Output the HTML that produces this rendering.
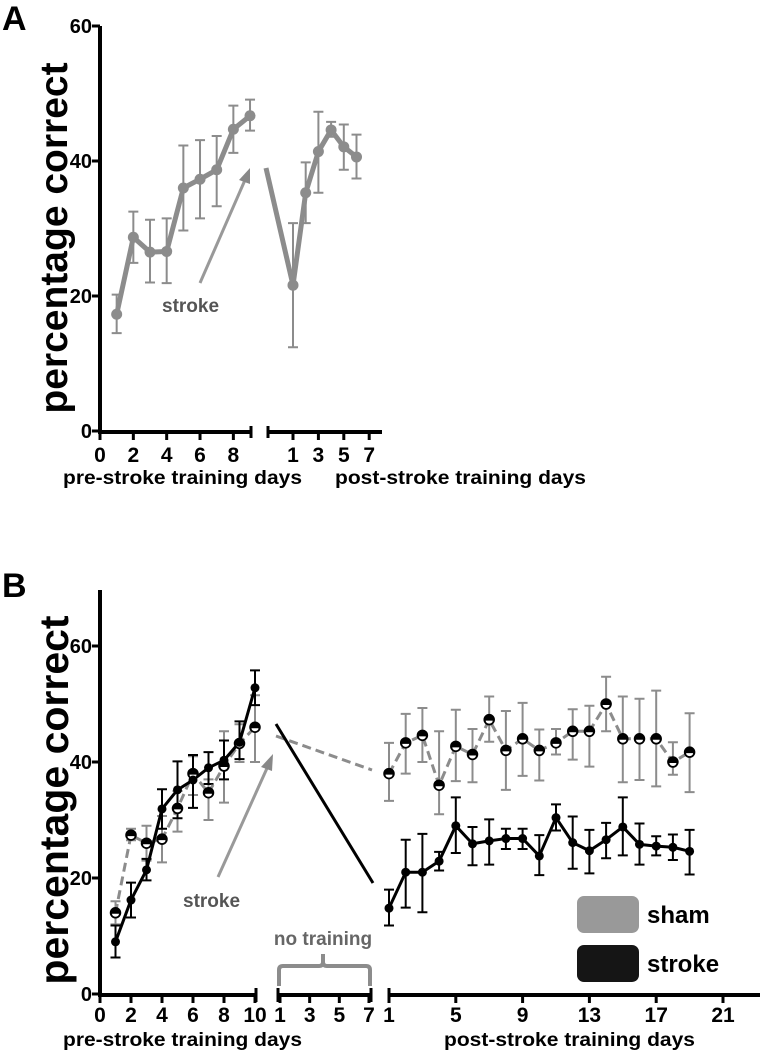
<!DOCTYPE html>
<html><head><meta charset="utf-8"><style>
html,body{margin:0;padding:0;background:#fff;}
svg{display:block;font-family:"Liberation Sans",Arial,sans-serif;font-weight:bold;}
</style></head><body>
<svg id="fig" width="760" height="1050" viewBox="0 0 760 1050" xmlns="http://www.w3.org/2000/svg">
<g id="gA"></g>
<g id="gB"></g>
</svg>
<script>
// Panel A data
const aPreDays = [1,2,3,4,5,6,7,8,9];
const aPreMean = [17.3,28.7,26.5,26.6,36,37.3,38.7,44.7,46.7];
const aPreLo = [14.5,24.9,22,21.9,29.7,31.5,33.3,41.2,44.5];
const aPreHi = [20.2,32.5,31.3,31.5,42.3,43.1,43.7,48.2,49.1];
const aPostDays = [1,2,3,4,5,6];
const aPostMean = [21.6,35.3,41.4,44.6,42.1,40.6];
const aPostLo = [12.4,30.8,35.3,43.6,38.7,37.4];
const aPostHi = [30.8,39.8,47.3,45.8,45.4,43.9];
const aYTicks = [0,20,40,60];
const aPreTicks = [0,2,4,6,8];
const aPostTicks = [1,3,5,7];
// Panel B data
const bPreDays = [1,2,3,4,5,6,7,8,9,10];
const bShamPre = [14,27.4,26,26.7,32,38,34.7,39.3,43.2,46];
const bShamPreLo = [12,26.5,23,22.7,28,34.3,30,33,40,40];
const bShamPreHi = [16,28.5,29,30.7,35,41,37,45.3,46.5,51.5];
const bStrokePre = [9,16.2,21.4,31.9,35.2,36.9,39,40.3,43.4,52.8];
const bStrokePreLo = [6.3,13.2,19.6,28.5,30.3,32.1,36.2,37,40.5,49.8];
const bStrokePreHi = [11.8,19.2,23.3,35.3,40.1,41.2,41.7,43.7,47,55.8];
const bPostDays = [1,2,3,4,5,6,7,8,9,10,11,12,13,14,15,16,17,18,19];
const bShamPost = [38,43.3,44.6,36,42.7,41.3,47.3,42,44,42,43.3,45.3,45.3,50,44,44,44,40,41.7];
const bShamPostLo = [33.3,38,40,31,36.7,36.5,43.5,35.2,37.6,36.8,41.3,40.4,39.2,45.3,36.5,36.9,35.8,37.8,34.8];
const bShamPostHi = [43.3,48.3,49.3,45.3,49,45.7,51.3,48.8,50.2,45.6,45.7,49.1,49.7,54.7,51.3,50.9,52.3,43.4,48.4];
const bStrokePost = [14.8,21,21,22.9,29,25.9,26.4,26.8,26.8,23.8,30.4,26.1,24.7,26.6,28.8,25.8,25.5,25.3,24.6];
const bStrokePostLo = [11.8,14.9,14.1,21.3,24.3,22.2,22.3,25,25,20.5,28.2,21.6,20.8,23.4,23.9,22.3,23.9,23.1,20.6];
const bStrokePostHi = [18,26.6,27.6,24.5,33.9,28.8,30.1,28.5,28.5,27.4,32.7,30.6,28.3,29.5,33.9,29.4,27.2,27.5,28.3];
const bYTicks = [0,20,40,60];
const bPreTicks = [0,2,4,6,8,10];
const bMidTicks = [1,3,5,7];
const bPostTicks = [1,5,9,13,17,21];

const NS="http://www.w3.org/2000/svg";
function mk(parent,tag,attrs,text){const e=document.createElementNS(NS,tag);for(const k in attrs)e.setAttribute(k,attrs[k]);if(text!==undefined)e.textContent=text;parent.appendChild(e);return e;}

// ---------- Panel A ----------
const A=document.getElementById('gA');
const ayA=v=>431-v*6.75;
const axPre=d=>100+d*16.67;
const axPost=d=>280.3+d*12.7;
let t;
t=mk(A,'text',{x:2,y:30,'font-size':34},'A');


t=mk(A,'text',{x:0,y:0,'font-size':39,'text-anchor':'middle',transform:'translate(67,238) rotate(-90)'},'percentage correct');


let ln=mk(A,'line',{x1:100,y1:ayA(60),x2:100,y2:432,stroke:'#000','stroke-width':4});


aYTicks.forEach(v=>{mk(A,'line',{x1:92,x2:100,y1:ayA(v),y2:ayA(v),stroke:'#000','stroke-width':3});
 const tx=mk(A,'text',{x:92,y:ayA(v)+7,'font-size':20,'text-anchor':'end'},v);
 
 });
ln=mk(A,'line',{x1:98,y1:432,x2:251,y2:432,stroke:'#000','stroke-width':4});


mk(A,'line',{x1:251,x2:251,y1:426,y2:438,stroke:'#000','stroke-width':3});
aPreTicks.forEach(d=>{mk(A,'line',{x1:axPre(d),x2:axPre(d),y1:432,y2:440,stroke:'#000','stroke-width':3});
 const tx=mk(A,'text',{x:axPre(d),y:462,'font-size':21,'text-anchor':'middle'},d);
 
 });
ln=mk(A,'line',{x1:268,y1:432,x2:382,y2:432,stroke:'#000','stroke-width':4});


mk(A,'line',{x1:268,x2:268,y1:426,y2:438,stroke:'#000','stroke-width':3});
aPostTicks.forEach(d=>{mk(A,'line',{x1:axPost(d),x2:axPost(d),y1:432,y2:440,stroke:'#000','stroke-width':3});
 const tx=mk(A,'text',{x:axPost(d),y:462,'font-size':21,'text-anchor':'middle'},d);
 
 });
t=mk(A,'text',{x:63,y:484,'font-size':19,textLength:239,lengthAdjust:'spacingAndGlyphs'},'pre-stroke training days');


t=mk(A,'text',{x:335,y:484,'font-size':19,textLength:251,lengthAdjust:'spacingAndGlyphs'},'post-stroke training days');


function errBars(g,xs,lo,hi,xf,yf,col,w,cap,name){xs.forEach((d,i)=>{const x=xf(d);
 const e=mk(g,'path',{d:`M${x},${yf(lo[i])}V${yf(hi[i])}M${x-cap},${yf(lo[i])}h${2*cap}M${x-cap},${yf(hi[i])}h${2*cap}`,stroke:col,'stroke-width':w,fill:'none'});
 
 });}
errBars(A,aPreDays,aPreLo,aPreHi,axPre,ayA,'#8c8c8c',2,5,'error-bar-pre-a');
errBars(A,aPostDays,aPostLo,aPostHi,axPost,ayA,'#8c8c8c',2,5,'error-bar-post-a');
let p=mk(A,'polyline',{points:aPreDays.map((d,i)=>axPre(d)+','+ayA(aPreMean[i])).join(' '),fill:'none',stroke:'#8c8c8c','stroke-width':5,'stroke-linejoin':'round'});


p=mk(A,'polyline',{points:'266,168 '+aPostDays.map((d,i)=>axPost(d)+','+ayA(aPostMean[i])).join(' '),fill:'none',stroke:'#8c8c8c','stroke-width':5,'stroke-linejoin':'round'});


aPreDays.forEach((d,i)=>{const c=mk(A,'circle',{cx:axPre(d),cy:ayA(aPreMean[i]),r:5.5,fill:'#8c8c8c'});
 
 });
aPostDays.forEach((d,i)=>{const c=mk(A,'circle',{cx:axPost(d),cy:ayA(aPostMean[i]),r:5.5,fill:'#8c8c8c'});
 
 });
p=mk(A,'path',{d:'M200,283 L245,180',stroke:'#999','stroke-width':3,fill:'none'});


mk(A,'polygon',{points:'250,168 239,180 250,184',fill:'#888'});
t=mk(A,'text',{x:162,y:312,'font-size':19,fill:'#555'},'stroke');



// ---------- Panel B ----------
const B=document.getElementById('gB');
const ayB=v=>994-v*5.8;
const bxPre=d=>100+d*15.5;
const bxMid=d=>280+(d-1)*14.83;
const bxPost=d=>389+(d-1)*16.7;
t=mk(B,'text',{x:2,y:597,'font-size':34},'B');


t=mk(B,'text',{x:0,y:0,'font-size':41,'text-anchor':'middle',transform:'translate(68,800) rotate(-90)'},'percentage correct');


ln=mk(B,'line',{x1:100,y1:590,x2:100,y2:995,stroke:'#000','stroke-width':4});


bYTicks.forEach(v=>{mk(B,'line',{x1:92,x2:100,y1:ayB(v),y2:ayB(v),stroke:'#000','stroke-width':3});
 const tx=mk(B,'text',{x:92,y:ayB(v)+7,'font-size':20,'text-anchor':'end'},v);
 
 });
function axisSeg(x1,x2,ticks,xf,name){const l=mk(B,'line',{x1:x1,y1:995,x2:x2,y2:995,stroke:'#000','stroke-width':4});
 
 
 ticks.forEach(d=>{mk(B,'line',{x1:xf(d),x2:xf(d),y1:995,y2:1003,stroke:'#000','stroke-width':3});
 const tx=mk(B,'text',{x:xf(d),y:1022,'font-size':21,'text-anchor':'middle'},d);
 
 });}
axisSeg(98,256,bPreTicks,bxPre,'x-axis-pre-b');
mk(B,'line',{x1:256,x2:256,y1:988,y2:1002,stroke:'#000','stroke-width':3});
axisSeg(278,371,bMidTicks,bxMid,'x-axis-mid-b');
mk(B,'line',{x1:278,x2:278,y1:988,y2:1002,stroke:'#000','stroke-width':3});
mk(B,'line',{x1:371,x2:371,y1:988,y2:1002,stroke:'#000','stroke-width':3});
axisSeg(389,760,bPostTicks,bxPost,'x-axis-post-b');
mk(B,'line',{x1:389,x2:389,y1:988,y2:1002,stroke:'#000','stroke-width':3});
t=mk(B,'text',{x:63,y:1046,'font-size':19,textLength:239,lengthAdjust:'spacingAndGlyphs'},'pre-stroke training days');


t=mk(B,'text',{x:444,y:1046,'font-size':19,textLength:251,lengthAdjust:'spacingAndGlyphs'},'post-stroke training days');


// error bars
errBars(B,bPreDays,bShamPreLo,bShamPreHi,bxPre,ayB,'#8c8c8c',2,5,'error-bar-sham-pre');
errBars(B,bPostDays,bShamPostLo,bShamPostHi,bxPost,ayB,'#8c8c8c',2,5,'error-bar-sham-post');
errBars(B,bPreDays,bStrokePreLo,bStrokePreHi,bxPre,ayB,'#000',2,5,'error-bar-stroke-pre');
errBars(B,bPostDays,bStrokePostLo,bStrokePostHi,bxPost,ayB,'#000',2,5,'error-bar-stroke-post');
// lines
function line(pts,col,dash,name){const l=mk(B,'polyline',{points:pts,fill:'none',stroke:col,'stroke-width':3,'stroke-dasharray':dash,'stroke-linejoin':'round'});
 
 }
line(bPreDays.map((d,i)=>bxPre(d)+','+ayB(bShamPre[i])).join(' '),'#8c8c8c','9,5','line-sham-pre');
line(bPostDays.map((d,i)=>bxPost(d)+','+ayB(bShamPost[i])).join(' '),'#8c8c8c','9,5','line-sham-post');
line('276,736 372,770','#8c8c8c','9,5','line-sham-break');
line(bPreDays.map((d,i)=>bxPre(d)+','+ayB(bStrokePre[i])).join(' '),'#000','none','line-stroke-pre');
line(bPostDays.map((d,i)=>bxPost(d)+','+ayB(bStrokePost[i])).join(' '),'#000','none','line-stroke-post');
line('276,724 373,883','#000','none','line-stroke-break');
// markers
function sham(x,y){const g=mk(B,'g',{});
 
 
 mk(g,'circle',{cx:x,cy:y,r:5,fill:'#000',stroke:'#000','stroke-width':1.5});
 mk(g,'path',{d:`M${x-3.5},${y+1} A3.5,3 0 0 0 ${x+3.5},${y+1} Z`,fill:'#fff'});}
function strk(x,y){const c=mk(B,'circle',{cx:x,cy:y,r:4.5,fill:'#000'});
 
 }
bPreDays.forEach((d,i)=>sham(bxPre(d),ayB(bShamPre[i])));
bPostDays.forEach((d,i)=>sham(bxPost(d),ayB(bShamPost[i])));
bPreDays.forEach((d,i)=>strk(bxPre(d),ayB(bStrokePre[i])));
bPostDays.forEach((d,i)=>strk(bxPost(d),ayB(bStrokePost[i])));
// stroke arrow
p=mk(B,'path',{d:'M218,877 L268,766',stroke:'#999','stroke-width':3,fill:'none'});


mk(B,'polygon',{points:'273,754 261,767 272,771',fill:'#888'});
t=mk(B,'text',{x:183,y:907,'font-size':19,fill:'#555'},'stroke');


// no training brace
t=mk(B,'text',{x:323,y:945,'font-size':19,fill:'#666','text-anchor':'middle'},'no training');


p=mk(B,'path',{d:'M279,986 V970 Q279,966 283,966 H319 Q323,966 323,962 V954 M323,962 Q323,966 327,966 H366 Q370,966 370,970 V986',stroke:'#8c8c8c','stroke-width':4,fill:'none'});


// legend
let r=mk(B,'rect',{x:577,y:896,width:62,height:37,rx:7,fill:'#999'});


t=mk(B,'text',{x:647,y:923,'font-size':24},'sham');


r=mk(B,'rect',{x:577,y:945,width:62,height:37,rx:7,fill:'#151515'});


t=mk(B,'text',{x:647,y:972,'font-size':24},'stroke');


</script>
</body></html>
